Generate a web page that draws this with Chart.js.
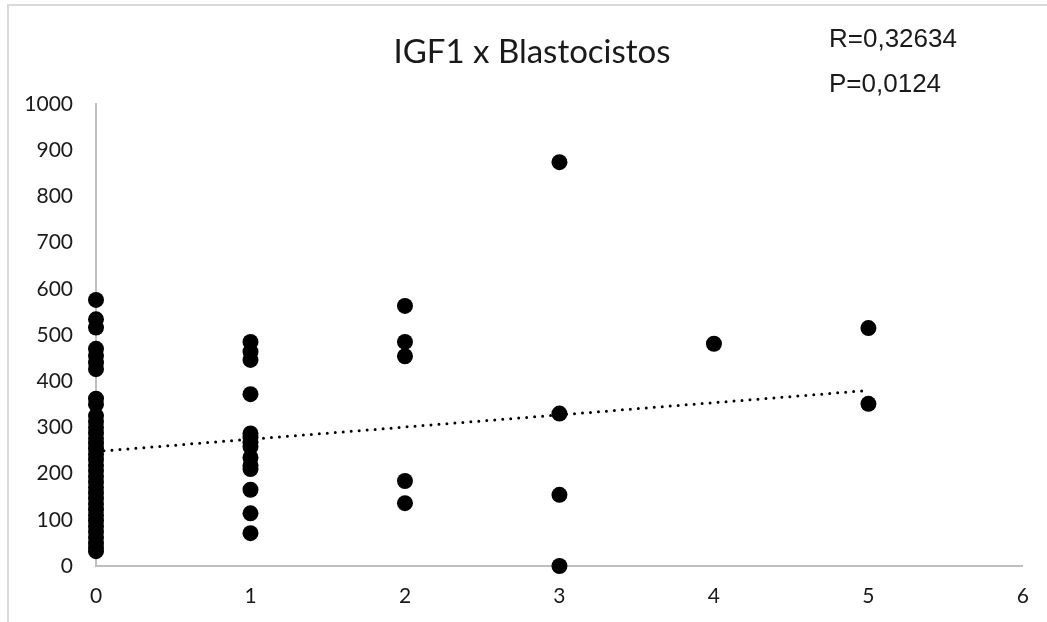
<!DOCTYPE html>
<html>
<head>
<meta charset="utf-8">
<script src="https://cdn.jsdelivr.net/npm/chart.js@4/dist/chart.umd.min.js"></script>
<style>
  html, body { margin: 0; padding: 0; background: #fff; }
  #wrap { width: 1047px; height: 622px; position: relative; }
</style>
</head>
<body>
<div id="wrap"><canvas id="igfChart" width="1047" height="622"></canvas></div>
<script>
// IGF1 values grouped by number of blastocysts
const igfZeroBlasto = [576, 534, 516, 470, 455, 440, 426, 362, 350, 325, 312, 300, 288, 276, 265, 254, 242, 230,
    218, 206, 194, 182, 170, 158, 146, 134, 122, 110, 98, 86, 74, 62, 50, 40, 32];
const igfOneBlasto = [485, 464, 446, 372, 287, 278, 268, 258, 235, 218, 210, 165, 114, 71];
const igfTwoBlasto = [563, 485, 454, 184, 136];
const igfThreeBlasto = [874, 330, 154, 0];
const igfFourBlasto = [481];
const igfFiveBlasto = [515, 351];

// dotted trendline end points
const trendX = [0, 5];
const trendY = [248, 380];

const xTicks = [0, 1, 2, 3, 4, 5, 6];
const yTicks = [0, 100, 200, 300, 400, 500, 600, 700, 800, 900, 1000];

const chartTitle = 'IGF1 x Blastocistos';
const statLines = ['R=0,32634', 'P=0,0124'];

// build the scatter points
const groups = [igfZeroBlasto, igfOneBlasto, igfTwoBlasto, igfThreeBlasto, igfFourBlasto, igfFiveBlasto];
const scatterPoints = [];
groups.forEach((vals, count) => {
    vals.forEach(v => scatterPoints.push({ x: count, y: v }));
});
const trendPoints = trendX.map((x, i) => ({ x: x, y: trendY[i] }));

// outer frame + title + R/P text
const decorPlugin = {
    id: 'decor',
    beforeDraw(chart) {
        const ctx = chart.ctx;
        ctx.save();
        ctx.strokeStyle = '#d9d9d9';
        ctx.lineWidth = 2;
        ctx.beginPath();
        ctx.moveTo(8, 622);
        ctx.lineTo(8, 5);
        ctx.lineTo(1047, 5);
        ctx.stroke();
        ctx.restore();
    },
    afterDraw(chart) {
        const ctx = chart.ctx;
        ctx.save();
        ctx.fillStyle = '#1a1a1a';
        ctx.textAlign = 'center';
        ctx.textBaseline = 'alphabetic';
        ctx.font = '33px Lato';
        ctx.fillText(chartTitle, 532, 63);

        ctx.textAlign = 'left';
        ctx.font = '26px "Liberation Sans"';
        ctx.fillText(statLines[0], 829, 47);
        ctx.fillText(statLines[1], 829, 92);
        ctx.restore();
    }
};

const tickFont = { family: 'Lato', size: 21 };

const ctx = document.getElementById('igfChart').getContext('2d');
const igfChart = new Chart(ctx, {
    type: 'scatter',
    data: {
        datasets: [{
            label: 'IGF1',
            data: scatterPoints,
            backgroundColor: '#000',
            borderWidth: 0,
            pointRadius: 8,
            clip: false,
            order: 1
        }, {
            type: 'line',
            label: 'Tendência',
            data: trendPoints,
            borderColor: '#000',
            borderWidth: 3,
            borderDash: [0, 8],
            borderCapStyle: 'round',
            pointRadius: 0,
            fill: false,
            order: 2
        }]
    },
    options: {
        responsive: false,
        animation: false,
        events: [],
        layout: {
            padding: { top: 104, right: 23, left: 0, bottom: 0 }
        },
        scales: {
            x: {
                type: 'linear',
                min: 0,
                max: 6,
                afterFit: s => { s.height = 56; },
                afterBuildTicks: s => { s.ticks = xTicks.map(v => ({ value: v })); },
                grid: { display: false, drawTicks: false },
                border: { display: true, color: '#bfbfbf', width: 2 },
                ticks: {
                    padding: 18,
                    color: '#1a1a1a',
                    font: tickFont,
                    callback: v => String(v)
                }
            },
            y: {
                min: 0,
                max: 1000,
                afterFit: s => { s.width = 96; },
                afterBuildTicks: s => { s.ticks = yTicks.map(v => ({ value: v })); },
                grid: { display: false, drawTicks: false },
                border: { display: true, color: '#bfbfbf', width: 2 },
                ticks: {
                    padding: 23,
                    color: '#1a1a1a',
                    font: tickFont,
                    callback: v => String(v)
                }
            }
        },
        plugins: {
            legend: { display: false },
            tooltip: { enabled: false },
            title: { display: false }
        }
    },
    plugins: [decorPlugin]
});
</script>
</body>
</html>
